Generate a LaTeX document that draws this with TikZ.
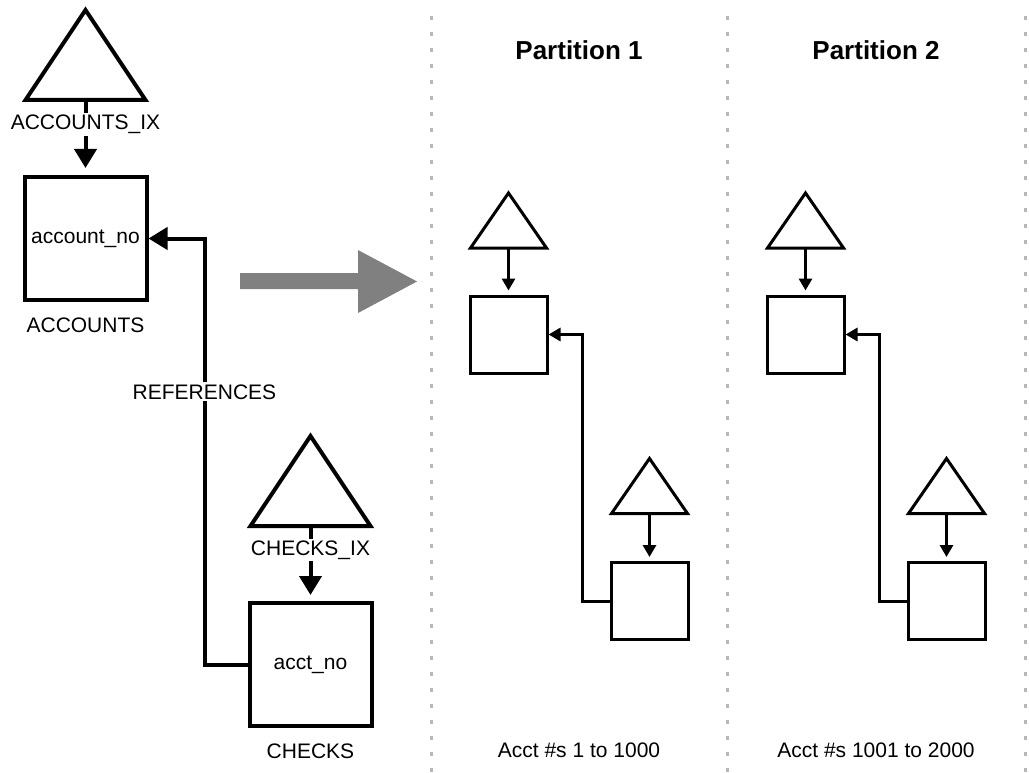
\documentclass[tikz,border=0pt]{standalone}
\usepackage{fontspec}
\setmainfont{Liberation Sans}
\usepackage{xcolor}
\usepackage{tikz}
\usetikzlibrary{positioning,arrows.meta}

\begin{document}
\begin{tikzpicture}[
    x=1pt, y=-1pt,
    font=\fontsize{21}{25}\selectfont,
    tbl/.style={draw, line width=4pt, minimum width=122pt, minimum height=123pt, inner sep=0pt},
    idx/.style={minimum width=120pt, minimum height=90pt, inner sep=0pt, outer sep=0pt},
    ptbl/.style={draw, line width=3pt, minimum width=77pt, minimum height=77pt, inner sep=0pt},
    pidx/.style={minimum width=76pt, minimum height=55pt, inner sep=0pt, outer sep=0pt},
    bigarrow/.style={-{Triangle[length=19pt, width=22pt]}, line width=4pt},
    smallarrow/.style={-{Triangle[length=12pt, width=13pt]}, line width=3pt},
    tag/.style={fill=white, inner sep=2pt},
    heading/.style={font=\fontsize{26}{30}\selectfont\bfseries},
    divider/.style={draw=black!28, line width=3pt, dash pattern=on 4pt off 12pt},
]
    \useasboundingbox (0,0) rectangle (1029,773);

    % dividers between the partitions
    \draw[divider] (431,16) -- (431,773);
    \draw[divider] (727,16) -- (727,773);
    \draw[divider] (1025,16) -- (1025,773);

    % ACCOUNTS and its index
    \node[idx] (aix) at (85.5,55) {};
    \node[tbl] (acc) at (85.5,238.5) {account\_no};
    \draw[line width=4pt] (aix.south west) -- (aix.north) -- (aix.south east) -- cycle;
    \node[tag, below=14pt of acc] (accname) {ACCOUNTS};
    \draw[bigarrow, shorten >=7pt] (aix.south) -- node[tag, pos=0.33] {ACCOUNTS\_IX} (acc.north);

    % CHECKS and its index
    \node[idx] (cix) at (310.5,481) {};
    \node[tbl] (chk) at (310.5,664.5) {acct\_no};
    \draw[line width=4pt] (cix.south west) -- (cix.north) -- (cix.south east) -- cycle;
    \node[tag, below=14pt of chk] (chkname) {CHECKS};
    \draw[bigarrow, shorten >=6pt] (cix.south) -- node[tag, pos=0.32] {CHECKS\_IX} (chk.north);

    % foreign key
    \draw[bigarrow] (chk.west) -- ++(-43,0) |- node[tag, pos=0.32] {REFERENCES} (acc.east);

    % partitioning arrow
    \fill[black!50] (240,273) -- (358,273) -- (358,250) -- (417,281.5) -- (358,313) -- (358,289) -- (240,289) -- cycle;

    % Partition 1
    \node[heading] (p1title) at (579,50) {Partition 1};
    \node[pidx] (p1aix) at (508.5,220.5) {};
    \node[ptbl] (p1acc) at (508.5,334.5) {};
    \node[pidx] (p1cix) at (649.5,486) {};
    \node[ptbl] (p1chk) at (649.5,601) {};
    \draw[line width=3pt] (p1aix.south west) -- (p1aix.north) -- (p1aix.south east) -- cycle;
    \draw[line width=3pt] (p1cix.south west) -- (p1cix.north) -- (p1cix.south east) -- cycle;
    \draw[smallarrow, shorten >=4pt] (p1aix.south) -- (p1acc.north);
    \draw[smallarrow, shorten >=4pt] (p1cix.south) -- (p1chk.north);
    \draw[smallarrow] (p1chk.west) -- ++(-27,0) |- (p1acc.east);
    \node (p1range) at (579,750) {Acct \#s 1 to 1000};

    % Partition 2
    \node[heading] (p2title) at (876,50) {Partition 2};
    \node[pidx] (p2aix) at (805.5,220.5) {};
    \node[ptbl] (p2acc) at (805.5,334.5) {};
    \node[pidx] (p2cix) at (946.5,486) {};
    \node[ptbl] (p2chk) at (946.5,601) {};
    \draw[line width=3pt] (p2aix.south west) -- (p2aix.north) -- (p2aix.south east) -- cycle;
    \draw[line width=3pt] (p2cix.south west) -- (p2cix.north) -- (p2cix.south east) -- cycle;
    \draw[smallarrow, shorten >=4pt] (p2aix.south) -- (p2acc.north);
    \draw[smallarrow, shorten >=4pt] (p2cix.south) -- (p2chk.north);
    \draw[smallarrow] (p2chk.west) -- ++(-27,0) |- (p2acc.east);
    \node (p2range) at (876,750) {Acct \#s 1001 to 2000};
\end{tikzpicture}
\end{document}
